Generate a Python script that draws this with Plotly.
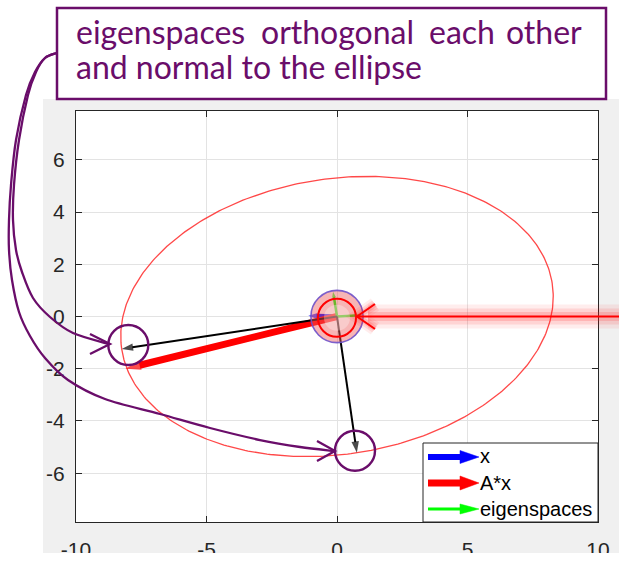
import numpy as np
import plotly.graph_objects as go

# ---------------- data ----------------
x_tick_vals = [-10, -5, 0, 5, 10]
x_tick_text = ["-10", "-5", "0", "5", "10"]
y_tick_vals = [-6, -4, -2, 0, 2, 4, 6]
y_tick_text = ["-6", "-4", "-2", "0", "2", "4", "6"]

vec_x = [-1.1, 0.03]          # blue  "x"
vec_Ax = [-8.1, -2.0]         # red   "A*x"
eig_vec1 = [0.95, 0.05]       # green eigenspace 1
eig_vec2 = [-0.15, 0.95]      # green eigenspace 2
eig_img1 = [-8.25, -1.24]     # black: A*v1 (major semi-axis of ellipse)
eig_img2 = [0.76, -5.22]      # black: A*v2 (minor semi-axis of ellipse)

legend_labels = ["x", "A*x", "eigenspaces"]
note_line1_words = ["eigenspaces", "orthogonal", "each", "other"]
note_line2 = "and normal to the ellipse"

# ---------------- layout constants (pixels) ----------------
W, H = 619, 565
L, R, T, B = 76, 598, 111, 522
X_RANGE = [-10, 10]
Y_RANGE = [-7.87, 7.87]
PURPLE = "#6a0d6a"
AXC = "#262626"


def px(v):
    return (v - L) / (R - L)


def py(v):
    return (B - v) / (B - T)


def smooth_path(pts):
    P = [(px(a), py(b)) for a, b in pts]
    s = "M %.5f,%.5f" % P[0]
    n = len(P)
    for i in range(n - 1):
        p0 = P[i - 1] if i > 0 else P[i]
        p1 = P[i]
        p2 = P[i + 1]
        p3 = P[i + 2] if i + 2 < n else P[i + 1]
        c1 = (p1[0] + (p2[0] - p0[0]) / 6, p1[1] + (p2[1] - p0[1]) / 6)
        c2 = (p2[0] - (p3[0] - p1[0]) / 6, p2[1] - (p3[1] - p1[1]) / 6)
        s += " C %.5f,%.5f %.5f,%.5f %.5f,%.5f" % (c1 + c2 + p2)
    return s


def poly_path(pts, close=False):
    s = "M " + " L ".join("%.5f,%.5f" % (px(a), py(b)) for a, b in pts)
    return s + (" Z" if close else "")


fig = go.Figure()

# ellipse: conjugate (orthogonal) semi-axes are the black eigen-images
t = np.linspace(0, 2 * np.pi, 400)
ell_x = np.cos(t) * eig_img1[0] + np.sin(t) * eig_img2[0]
ell_y = np.cos(t) * eig_img1[1] + np.sin(t) * eig_img2[1]
fig.add_trace(go.Scatter(x=ell_x, y=ell_y, mode="lines",
                         line=dict(color="rgba(255,40,40,0.85)", width=1.3),
                         hoverinfo="skip", showlegend=False))


def add_vec(v, color, width, head):
    fig.add_trace(go.Scatter(
        x=[0, v[0]], y=[0, v[1]], mode="lines+markers",
        line=dict(color=color, width=width),
        marker=dict(symbol="arrow", size=[0, head], angleref="previous",
                    color=color, line=dict(width=0)),
        hoverinfo="skip", showlegend=False))


add_vec(vec_x, "#0000ff", 4.5, 9)
add_vec(vec_Ax, "#ff0000", 7, 16)
add_vec(eig_vec1, "#00ff00", 2.5, 6)
add_vec(eig_vec2, "#00ff00", 2.5, 6)
add_vec(eig_img1, "#000000", 2, 12)
add_vec(eig_img2, "#000000", 2, 12)

shapes = []
# figure gray background + white axes area
shapes.append(dict(type="rect", xref="paper", yref="paper", layer="below",
                   x0=px(43), x1=px(619), y0=py(553), y1=py(99),
                   fillcolor="#f0f0f0", line=dict(width=0)))
shapes.append(dict(type="rect", xref="paper", yref="paper", layer="below",
                   x0=0, x1=1, y0=0, y1=1,
                   fillcolor="white", line=dict(width=0)))

# glowing marker around the origin (data coords)
shapes.append(dict(type="circle", xref="x", yref="y", layer="above",
                   x0=-1, x1=1, y0=-1, y1=1,
                   fillcolor="rgba(238,90,90,0.45)",
                   line=dict(color="rgba(110,80,200,0.9)", width=1.6)))
shapes.append(dict(type="circle", xref="x", yref="y", layer="above",
                   x0=-0.5, x1=0.5, y0=-0.55, y1=0.45,
                   fillcolor="rgba(255,255,255,0.3)", line=dict(width=0)))
shapes.append(dict(type="circle", xref="x", yref="y", layer="above",
                   x0=-0.73, x1=0.73, y0=-0.78, y1=0.68,
                   fillcolor="rgba(0,0,0,0)", line=dict(color="#ff0000", width=2)))

# red glowing pointer from the right
yp0 = (B + T) / 2
for wdt, col in [(24, "rgba(255,0,0,0.07)"), (16, "rgba(255,0,0,0.1)"),
                 (9, "rgba(255,60,60,0.2)")]:
    shapes.append(dict(type="line", xref="paper", yref="paper", layer="above",
                       x0=px(368), x1=px(619), y0=py(yp0), y1=py(yp0),
                       line=dict(color=col, width=wdt)))
    shapes.append(dict(type="path", xref="paper", yref="paper", layer="above",
                       path=poly_path([(375, yp0 - 12), (358, yp0), (375, yp0 + 12)]),
                       fillcolor="rgba(0,0,0,0)", line=dict(color=col, width=wdt * 0.6)))
shapes.append(dict(type="line", xref="paper", yref="paper", layer="above",
                   x0=px(357), x1=px(619), y0=py(yp0), y1=py(yp0),
                   line=dict(color="#ff0000", width=2)))
shapes.append(dict(type="path", xref="paper", yref="paper", layer="above",
                   path=poly_path([(375, yp0 - 12.5), (357, yp0), (375, yp0 + 12.5)]),
                   fillcolor="rgba(0,0,0,0)", line=dict(color="#ff0000", width=2)))

# legend (manual, MATLAB style)
shapes.append(dict(type="rect", xref="paper", yref="paper", layer="above",
                   x0=px(423), x1=px(598), y0=py(522), y1=py(443),
                   fillcolor="white", line=dict(color=AXC, width=1)))
leg_y = [457, 483, 509]
leg_style = [("#0000ff", 6, 6.5), ("#ff0000", 7, 7), ("#00ff00", 3, 5)]
for yy, (col, lw, hh) in zip(leg_y, leg_style):
    shapes.append(dict(type="line", xref="paper", yref="paper", layer="above",
                       x0=px(428), x1=px(463), y0=py(yy), y1=py(yy),
                       line=dict(color=col, width=lw)))
    shapes.append(dict(type="path", xref="paper", yref="paper", layer="above",
                       path=poly_path([(460, yy - hh), (479, yy), (460, yy + hh)], close=True),
                       fillcolor=col, line=dict(color=col, width=0.5)))

# callout circles
for cx, cy in [(128.3, 345), (355, 450.7)]:
    r = 20
    shapes.append(dict(type="circle", xref="paper", yref="paper", layer="above",
                       x0=px(cx - r), x1=px(cx + r), y0=py(cy + r), y1=py(cy - r),
                       fillcolor="rgba(0,0,0,0)", line=dict(color=PURPLE, width=2.4)))

# callout curves with open arrowheads
curve_inner = [(57, 53), (45, 58), (36, 72), (28, 95), (19, 140), (14, 185), (13, 220),
               (16, 250), (22, 272), (33, 298), (50, 317), (73, 333), (109, 344)]
curve_outer = [(57, 53), (45, 58), (35, 72), (26, 95), (16, 140), (11, 185), (9, 220),
               (9, 250), (12, 280), (19, 312), (30, 336), (45, 358), (68, 380),
               (105, 399), (160, 414), (210, 428), (260, 440), (300, 447), (334, 451)]
for crv in (curve_inner, curve_outer):
    shapes.append(dict(type="path", xref="paper", yref="paper", layer="above",
                       path=smooth_path(crv), fillcolor="rgba(0,0,0,0)",
                       line=dict(color=PURPLE, width=2.3)))
for tip, a1, a2 in [((110, 344), (90, 334), (90, 354)),
                    ((335, 451), (317, 441), (317, 461))]:
    shapes.append(dict(type="path", xref="paper", yref="paper", layer="above",
                       path=poly_path([a1, tip, a2]), fillcolor="rgba(0,0,0,0)",
                       line=dict(color=PURPLE, width=2.3)))

# note box
shapes.append(dict(type="rect", xref="paper", yref="paper", layer="above",
                   x0=px(57), x1=px(606), y0=py(99), y1=py(8),
                   fillcolor="white", line=dict(color=PURPLE, width=2.5)))

# bottom white strip cutting the tick labels (as in the reference)
shapes.append(dict(type="rect", xref="paper", yref="paper", layer="above",
                   x0=px(0), x1=px(619), y0=py(565), y1=py(553),
                   fillcolor="white", line=dict(width=0)))

annotations = []
note_font = dict(family="Lato", size=32, color=PURPLE)
for xw, word in zip([75, 260, 428, 505], note_line1_words):
    annotations.append(dict(xref="paper", yref="paper", x=px(xw), y=py(32),
                            xanchor="left", yanchor="middle", text=word,
                            showarrow=False, font=note_font, borderpad=0))
annotations.append(dict(xref="paper", yref="paper", x=px(75), y=py(67),
                        xanchor="left", yanchor="middle", text=note_line2,
                        showarrow=False, font=note_font, borderpad=0))
for yy, lab in zip([456, 483, 509], legend_labels):
    annotations.append(dict(xref="paper", yref="paper", x=px(479), y=py(yy),
                            xanchor="left", yanchor="middle", text=lab,
                            showarrow=False, borderpad=0,
                            font=dict(family="Liberation Sans, Arial", size=20, color="#000000")))

axis_common = dict(ticks="inside", ticklen=6, tickcolor=AXC, tickwidth=1,
                   showline=True, linecolor=AXC, linewidth=1, mirror="allticks",
                   showgrid=True, gridcolor="#e3e3e3", gridwidth=1, zeroline=False,
                   automargin=False,
                   tickfont=dict(family="Liberation Sans, Arial", size=21, color=AXC))
fig.update_layout(
    width=W, height=H,
    margin=dict(l=L, r=W - R, t=T, b=H - B, pad=0, autoexpand=False),
    paper_bgcolor="white", plot_bgcolor="rgba(0,0,0,0)",
    showlegend=False,
    xaxis=dict(range=X_RANGE, tickmode="array", tickvals=x_tick_vals,
               ticktext=x_tick_text, ticklabelstandoff=9, **axis_common),
    yaxis=dict(range=Y_RANGE, tickmode="array", tickvals=y_tick_vals,
               ticktext=y_tick_text, ticklabelstandoff=6, **axis_common),
    shapes=shapes, annotations=annotations,
)

fig.write_html("out.html")
